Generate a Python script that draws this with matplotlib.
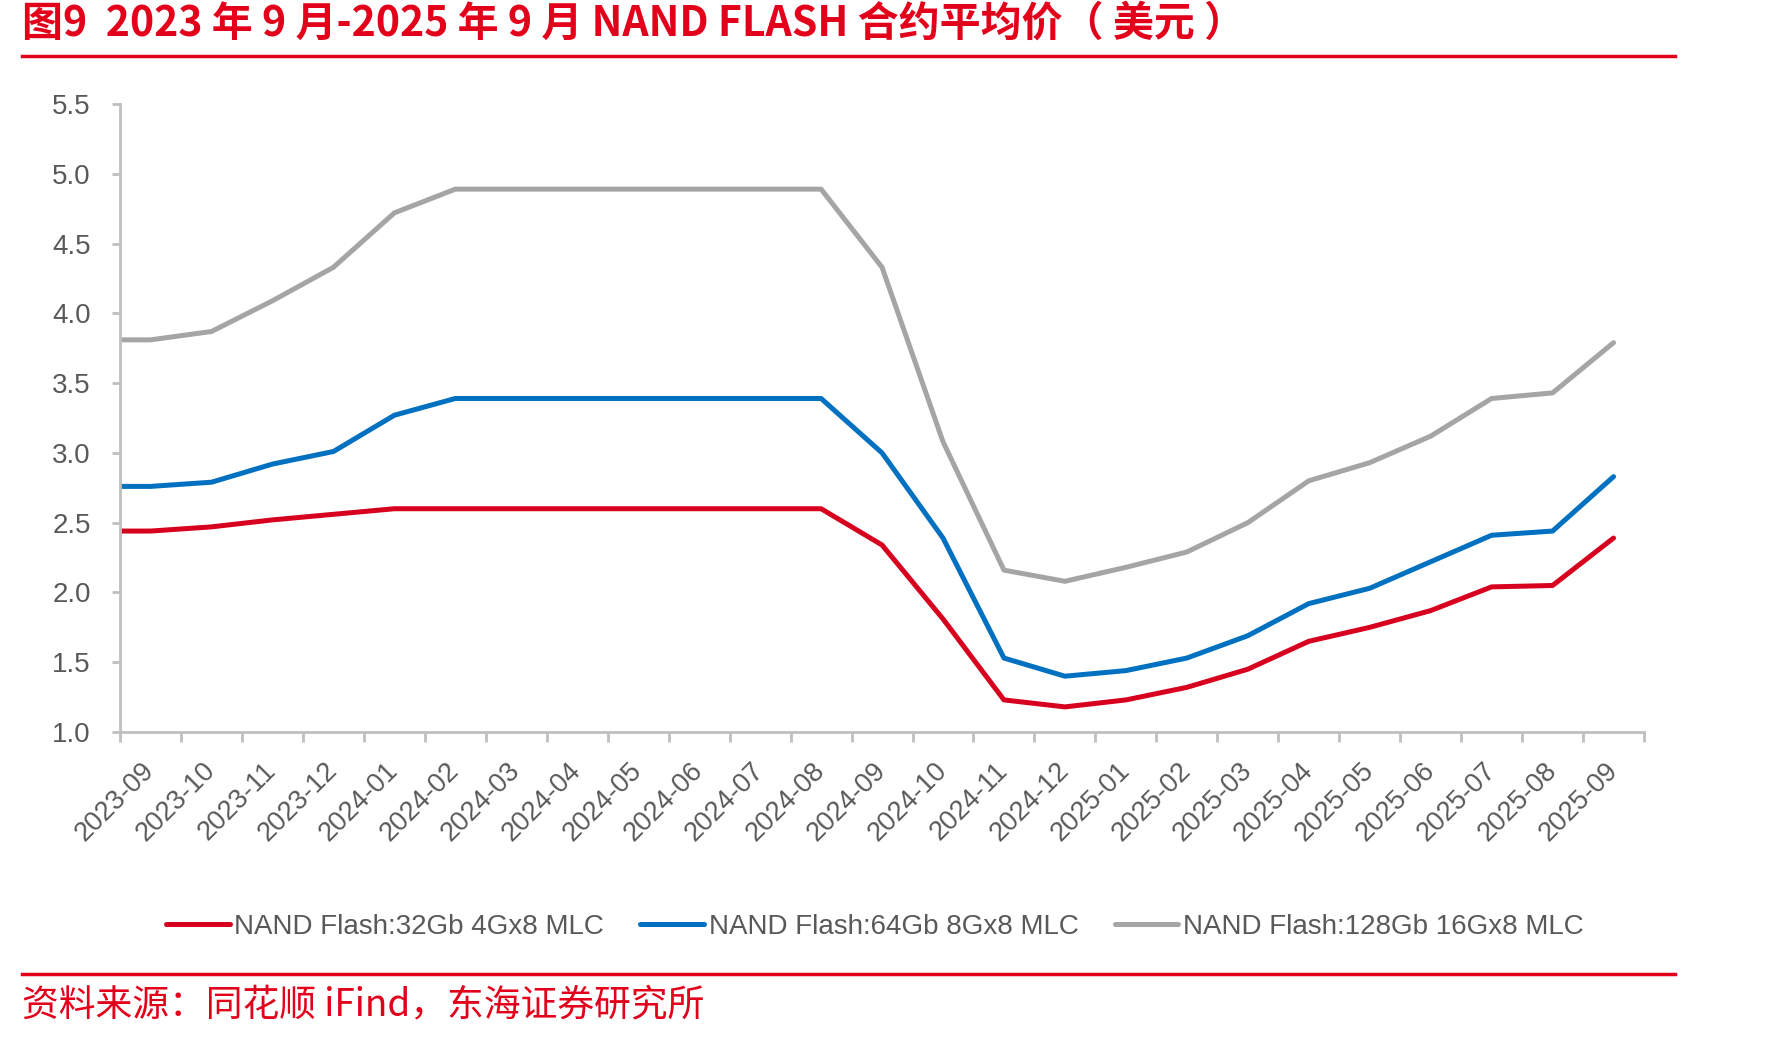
import numpy as np
import matplotlib.pyplot as plt
from matplotlib.lines import Line2D

plt.rcParams['font.family'] = ['Liberation Sans', 'Noto Sans CJK SC', 'DejaVu Sans']

months = ['2023-09', '2023-10', '2023-11', '2023-12', '2024-01', '2024-02',
          '2024-03', '2024-04', '2024-05', '2024-06', '2024-07', '2024-08',
          '2024-09', '2024-10', '2024-11', '2024-12', '2025-01', '2025-02',
          '2025-03', '2025-04', '2025-05', '2025-06', '2025-07', '2025-08',
          '2025-09']

mlc_32gb = [2.44, 2.47, 2.52, 2.56, 2.60, 2.60, 2.60, 2.60, 2.60, 2.60, 2.60, 2.60,
            2.34, 1.81, 1.23, 1.18, 1.23, 1.32, 1.45, 1.65, 1.75, 1.87, 2.04, 2.05,
            2.39]
mlc_64gb = [2.76, 2.79, 2.92, 3.01, 3.27, 3.39, 3.39, 3.39, 3.39, 3.39, 3.39, 3.39,
            3.00, 2.39, 1.53, 1.40, 1.44, 1.53, 1.69, 1.92, 2.03, 2.22, 2.41, 2.44,
            2.83]
mlc_128gb = [3.81, 3.87, 4.09, 4.33, 4.72, 4.89, 4.89, 4.89, 4.89, 4.89, 4.89, 4.89,
             4.33, 3.08, 2.16, 2.08, 2.18, 2.29, 2.50, 2.80, 2.93, 3.12, 3.39, 3.43,
             3.79]

series_names = ['NAND Flash:32Gb 4Gx8 MLC', 'NAND Flash:64Gb 8Gx8 MLC',
                'NAND Flash:128Gb 16Gx8 MLC']
colors = ['#D7001E', '#0070C0', '#A5A5A5']

red = '#E2001A'
gray_txt = '#595959'
axis_gray = '#BFBFBF'

fig = plt.figure(figsize=(17.71, 10.37), dpi=100)
ax = fig.add_axes([0.0678, 0.2941, 0.8605, 0.6056])

n = len(months)
# points sit in the middle of each month slot; the first value is carried back to the axis
x = np.concatenate([[0], np.arange(n) + 0.5])
lines = []
for vals, c, name in zip([mlc_32gb, mlc_64gb, mlc_128gb], colors, series_names):
    y = np.concatenate([[vals[0]], vals])
    ln, = ax.plot(x, y, color=c, lw=3.6, label=name, solid_capstyle='round',
                  solid_joinstyle='round')
    lines.append(ln)

ax.set_xlim(0, n)
ax.set_ylim(1.0, 5.5)
ax.set_yticks(np.arange(1.0, 5.51, 0.5))
ax.set_yticklabels([f'{v:.1f}' for v in np.arange(1.0, 5.51, 0.5)])
ax.set_xticks(np.arange(n + 1))
ax.set_xticklabels([])
ax.set_xticks(np.arange(n) + 0.5, minor=True)
ax.set_xticklabels(months, minor=True, rotation=45, ha='right', va='center',
                   rotation_mode='anchor')

for s in ['top', 'right']:
    ax.spines[s].set_visible(False)
for s in ['left', 'bottom']:
    ax.spines[s].set_color(axis_gray)
    ax.spines[s].set_linewidth(2)

ax.tick_params(axis='y', length=6, width=2, color=axis_gray, labelcolor=gray_txt,
               labelsize=20, pad=15)
ax.tick_params(axis='x', which='major', length=7, width=2, color=axis_gray)
ax.tick_params(axis='x', which='minor', length=0, labelcolor=gray_txt,
               labelsize=19.5, pad=25)

fig.legend(handles=lines, loc='center', bbox_to_anchor=(0.494, 0.106), ncol=3,
           frameon=False, fontsize=20, labelcolor=gray_txt, handlelength=2.3,
           handletextpad=0.15, columnspacing=1.3)

fig.text(0.0124, 0.977, '图9  2023 年 9 月-2025 年 9 月 NAND FLASH 合约平均价（ 美元 ）',
         color=red, fontsize=29.5, fontweight='bold', va='center', ha='left',
         family=['Noto Sans CJK SC', 'DejaVu Sans'])
fig.text(0.0124, 0.030, '资料来源：同花顺 iFind，东海证券研究所', color=red,
         fontsize=26.5, va='center', ha='left', family=['Noto Sans CJK SC', 'DejaVu Sans'])

fig.add_artist(Line2D([0.0124, 0.946], [0.946, 0.946], color=red, lw=2.5))
fig.add_artist(Line2D([0.0124, 0.946], [0.061, 0.061], color=red, lw=2.5))

fig.savefig('out.png', dpi=100)
